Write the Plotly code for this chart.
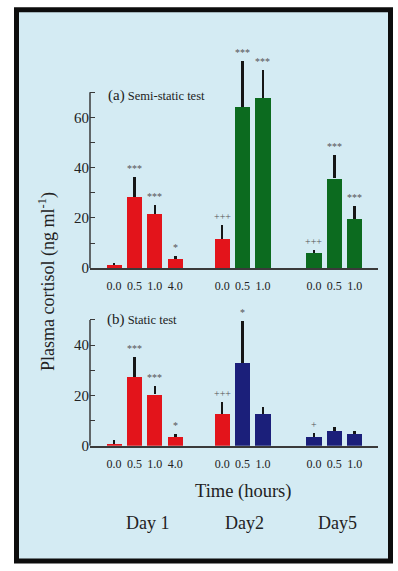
import plotly.graph_objects as go

# ---------------- data ----------------
day_labels = ["Day 1", "Day2", "Day5"]
bar_day = [0, 0, 0, 0, 1, 1, 1, 2, 2, 2]
time_labels = ["0.0", "0.5", "1.0", "4.0", "0.0", "0.5", "1.0", "0.0", "0.5", "1.0"]

semi_mean = [1.2, 28.2, 21.6, 3.5, 11.8, 64.2, 67.6, 5.9, 35.7, 19.7]
semi_err = [0.8, 8.2, 3.4, 1.2, 5.5, 18.2, 11.4, 1.4, 9.3, 4.9]
semi_sig = ["", "***", "***", "*", "+++", "***", "***", "+++", "***", "***"]
semi_group = ["ctrl", "ctrl", "ctrl", "ctrl", "ctrl", "semi", "semi", "semi", "semi", "semi"]

static_mean = [0.8, 27.2, 20.4, 3.4, 12.5, 33.0, 12.5, 3.6, 6.0, 4.7]
static_err = [1.5, 8.2, 3.5, 1.3, 4.9, 16.4, 2.8, 1.4, 1.3, 1.3]
static_sig = ["", "***", "***", "*", "+++", "*", "", "+", "", ""]
static_group = ["ctrl", "ctrl", "ctrl", "ctrl", "ctrl", "static", "static", "static", "static", "static"]

y_major_ticks = [0, 20, 40, 60]
y_minor_ticks_a = [10, 30, 50, 70]
y_minor_ticks_b = [10, 30, 50]
axis_top = [70, 50]

panel_titles = ["Semi-static test", "Static test"]
y_title = "Plasma cortisol (ng ml<sup>-1</sup>)"
x_title = "Time (hours)"

# ---------------- style ----------------
W, H = 398, 571
BG = "#d4ebf3"
COLORS = {"ctrl": "#e3141b", "semi": "#0c6b1f", "static": "#1b1f7a"}
FONT = "Liberation Serif"
TXT = "#222222"
AX = "#3a3a3a"
DAY_OFFSET = [0.0, 5.3, 9.8]
PPU = (272 - 93.5) / 70.0   # pixels per data unit
ZERO_A, ZERO_B = 272, 452
YMAX_A, YMAX_B = 88, 56     # headroom so tall error bars / stars are not clipped


def px_x(x):
    return x / W


def px_y(y):
    return 1 - y / H


# positions computed from the group structure
pos = []
count = {}
for d in bar_day:
    i = count.get(d, 0)
    pos.append(DAY_OFFSET[d] + i)
    count[d] = i + 1

fig = go.Figure()

panels = [
    (semi_mean, semi_err, semi_sig, semi_group, "x", "y"),
    (static_mean, static_err, static_sig, static_group, "x2", "y2"),
]

annotations = []
for k, (mean, err, sig, grp, xa, ya) in enumerate(panels):
    fig.add_trace(go.Bar(
        x=pos, y=mean, width=0.74, cliponaxis=False,
        marker=dict(color=[COLORS[g] for g in grp], line=dict(width=0)),
        error_y=dict(type="data", symmetric=False, array=err,
                     arrayminus=[0] * len(err), color="#161616",
                     thickness=2.6, width=0),
        xaxis=xa, yaxis=ya, showlegend=False, hoverinfo="skip",
    ))
    for xv, m, e, s in zip(pos, mean, err, sig):
        if s:
            annotations.append(dict(
                x=xv, y=m + e, xref=xa, yref=ya, text=s, showarrow=False,
                xanchor="center", yanchor="bottom", yshift=1,
                font=dict(family=FONT, size=10, color="#555555")))

xr = [-1.18, 12.94]
axis_common_x = dict(
    range=xr, showgrid=False, zeroline=False, showline=True,
    linecolor=AX, linewidth=1.5, ticks="", tickmode="array",
    tickvals=pos, ticktext=time_labels, ticklabelstandoff=6,
    tickfont=dict(family=FONT, size=12, color=TXT), fixedrange=True,
)


def yaxis_def(zero_px, ymax, minor_vals):
    return dict(
        domain=[px_y(zero_px), px_y(zero_px - ymax * PPU)], range=[0, ymax],
        showgrid=False, zeroline=False, showline=False,
        ticks="inside", ticklen=5, tickwidth=1.3, tickcolor=AX,
        tickmode="array", tickvals=y_major_ticks,
        minor=dict(tickmode="array", tickvals=minor_vals, ticks="inside",
                   ticklen=5, tickwidth=1.3, tickcolor=AX),
        tickfont=dict(family=FONT, size=15, color=TXT), fixedrange=True,
    )


dom_x = [px_x(90), px_x(378)]
shapes = [dict(type="rect", xref="paper", yref="paper",
               x0=px_x(16.5), x1=px_x(390.5), y0=px_y(569), y1=px_y(10),
               line=dict(color="#0d0d0d", width=5), fillcolor=BG,
               layer="below")]
# vertical axis lines stopping at the top tick
for xa, ya, top in [("x", "y", axis_top[0]), ("x2", "y2", axis_top[1])]:
    shapes.append(dict(type="line", xref=xa + " domain", yref=ya,
                       x0=0, x1=0, y0=0, y1=top,
                       line=dict(color=AX, width=1.5)))

fig.update_layout(
    width=W, height=H,
    margin=dict(l=0, r=0, t=0, b=0),
    paper_bgcolor="white", plot_bgcolor="rgba(0,0,0,0)",
    bargap=0,
    xaxis=dict(domain=dom_x, anchor="y", **axis_common_x),
    yaxis=dict(anchor="x", **yaxis_def(ZERO_A, YMAX_A, y_minor_ticks_a)),
    xaxis2=dict(domain=dom_x, anchor="y2", **axis_common_x),
    yaxis2=dict(anchor="x2", **yaxis_def(ZERO_B, YMAX_B, y_minor_ticks_b)),
    shapes=shapes,
)


def label(x, y, text, size, xanchor="center", angle=0):
    annotations.append(dict(
        x=px_x(x), y=px_y(y), xref="paper", yref="paper", showarrow=False,
        xanchor=xanchor, yanchor="middle", text=text, textangle=angle,
        font=dict(family=FONT, size=size, color=TXT)))


# panel titles
label(106, 97, "<span style='font-size:15px'>(a)</span> " + panel_titles[0], 12.5, "left")
label(105, 324, "<span style='font-size:15px'>(b)</span> " + panel_titles[1], 12.5, "left")

# axis titles
label(47, 286, y_title, 18, angle=-90)
label(243, 498, x_title, 18.5)

# day labels
for lbl, xp in zip(day_labels, [148, 244, 337]):
    label(xp, 530, lbl, 18)

fig.update_layout(annotations=annotations)
fig.write_html("out.html")
